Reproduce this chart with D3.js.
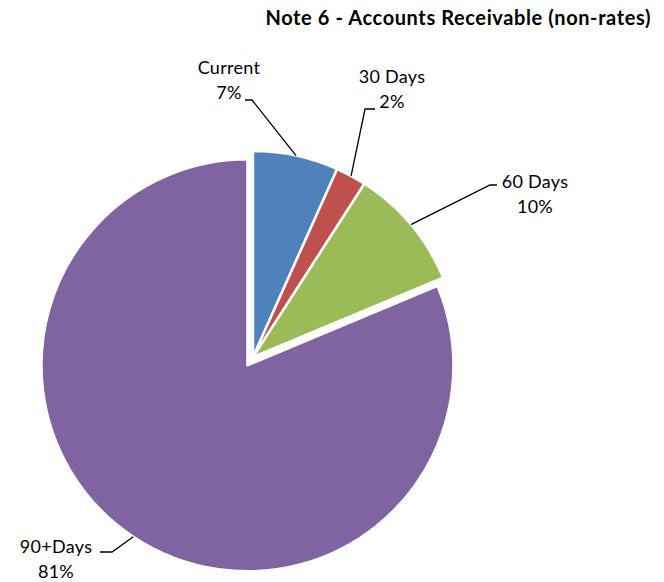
<!DOCTYPE html>
<meta charset="utf-8">

<head>
    <style>
        body {
            margin: 0;
            background: white;
        }

        text {
            font-family: Lato, "Open Sans", sans-serif;
            fill: #000;
        }

        .title {
            font-size: 20px;
            font-weight: bold;
            letter-spacing: 0.6px;
        }

        .lbl {
            font-size: 18px;
            letter-spacing: 0.3px;
        }

        .leader {
            fill: none;
            stroke: #000;
            stroke-width: 1.3;
        }
    </style>
    <script src="https://cdn.jsdelivr.net/npm/d3@7"></script>
</head>

<body>
    <script>
        const width = 664
        const height = 582

        // data
        const categories = ["Current", "30 Days", "60 Days", "90+Days"]
        const values = [6.7, 2.4, 9.6, 81.3]
        const pctLabels = ["7%", "2%", "10%", "81%"]
        const colors = ["#4F81BD", "#C0504D", "#9BBB59", "#8064A2"]
        const explode = [0, 0, 0, 10]

        // label placement (elbow of the leader, end of the short tick, text centre, first baseline)
        const labelLayout = [
            { ex: 252, ey: 100, tx: 245, cx: 229, by: 74 },
            { ex: 365, ey: 109, tx: 375, cx: 392, by: 83 },
            { ex: 490, ey: 185, tx: 497, cx: 535, by: 188 },
            { ex: 112, ey: 552, tx: 100, cx: 56, by: 553 }
        ]

        const cx = 253
        const cy = 357
        const radius = 206
        const lineGap = 25

        const svg = d3.select("body").append("svg")
            .attr("width", width)
            .attr("height", height)

        svg.append("text")
            .attr("class", "title")
            .attr("x", 651)
            .attr("y", 25)
            .attr("text-anchor", "end")
            .text("Note 6 - Accounts Receivable (non-rates)")

        const pie = d3.pie().sort(null).value(d => d)
        const arcs = pie(values)

        const arc = d3.arc().innerRadius(0).outerRadius(radius)
        const edge = d3.arc().innerRadius(radius).outerRadius(radius)

        function offset(d, i) {
            const mid = (d.startAngle + d.endAngle) / 2
            return [explode[i] * Math.sin(mid), -explode[i] * Math.cos(mid)]
        }

        const g = svg.append("g")
            .attr("transform", `translate(${cx},${cy})`)

        g.selectAll("path.slice")
            .data(arcs)
            .enter()
            .append("path")
            .attr("class", "slice")
            .attr("transform", (d, i) => "translate(" + offset(d, i) + ")")
            .attr("d", arc)
            .attr("fill", (d, i) => colors[i])
            .attr("stroke", "#fff")
            .attr("stroke-width", 2.5)
            .attr("stroke-linejoin", "round")

        // leader lines
        svg.selectAll("path.leader")
            .data(arcs)
            .enter()
            .append("path")
            .attr("class", "leader")
            .attr("d", (d, i) => {
                const o = offset(d, i)
                const p = edge.centroid(d)
                const L = labelLayout[i]
                return d3.line()([
                    [cx + p[0] + o[0], cy + p[1] + o[1]],
                    [L.ex, L.ey],
                    [L.tx, L.ey]
                ])
            })

        const labels = svg.selectAll("text.lbl")
            .data(arcs)
            .enter()
            .append("text")
            .attr("class", "lbl")
            .attr("text-anchor", "middle")

        labels.append("tspan")
            .attr("x", (d, i) => labelLayout[i].cx)
            .attr("y", (d, i) => labelLayout[i].by)
            .text((d, i) => categories[i])

        labels.append("tspan")
            .attr("x", (d, i) => labelLayout[i].cx)
            .attr("y", (d, i) => labelLayout[i].by + lineGap)
            .text((d, i) => pctLabels[i])
    </script>
</body>
